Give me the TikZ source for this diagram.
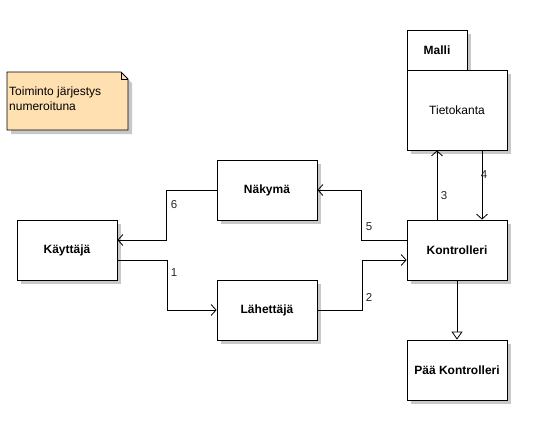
\documentclass[tikz,border=0pt]{standalone}
\usepackage{fontspec}
\setmainfont{Liberation Sans}
\usetikzlibrary{arrows.meta,backgrounds,calc}
\definecolor{notefill}{HTML}{FFE0B0}
\definecolor{shadowgray}{HTML}{C8C8C8}
\tikzset{
  x=1pt,y=-1pt,
  box/.style={draw, fill=white, line width=0.8pt, minimum width=100pt, minimum height=60pt, inner sep=0pt,
    font=\fontsize{12}{14}\selectfont\bfseries},
  conn/.style={line width=0.8pt, -{Straight Barb[length=5pt,width=11pt,line width=0.8pt]}},
  gen/.style={line width=0.8pt, -{Triangle[open,length=8pt,width=11pt,line width=0.8pt,fill=white]}},
  num/.style={font=\fontsize{11.5}{13}\selectfont, inner sep=0pt, text=black!85},
  shad/.style={fill=shadowgray},
}
\newcommand{\shadowof}[1]{\fill[shad] ([shift={(4,4)}]#1.north west) rectangle ([shift={(4,4)}]#1.south east);}
\begin{document}
\begin{tikzpicture}
\useasboundingbox (0,0) rectangle (553,434);
% note
\fill[shadowgray] (11,76) -- (125,76) -- (132,83) -- (132,134) -- (11,134) -- cycle;
\draw[fill=notefill, line width=0.8pt] (7,72) -- (121,72) -- (128,79) -- (128,130) -- (7,130) -- cycle;
\draw[line width=0.8pt] (121,72) -- (121,79) -- (128,79);
\node[anchor=north west, align=left, inner sep=0pt, font=\fontsize{12}{15}\selectfont] (note) at (9,87) {Toiminto järjestys\\numeroituna};
% Malli package
\node[box, minimum width=60pt, minimum height=40pt] (malli) at (437,50) {Malli};
\node[box, minimum height=80pt, font=\fontsize{12}{14}\selectfont] (tk) at (457,110) {Tietokanta};
% boxes
\node[box] (nak) at (267,190) {Näkymä};
\node[box] (kay) at (67,250) {Käyttäjä};
\node[box] (lah) at (267,310) {Lähettäjä};
\node[box] (kon) at (457,250) {Kontrolleri};
\node[box] (paa) at (457,370) {Pää Kontrolleri};
\begin{scope}[on background layer]
\shadowof{malli}
\shadowof{tk}
\shadowof{nak}
\shadowof{kay}
\shadowof{lah}
\shadowof{kon}
\shadowof{paa}
\end{scope}
% connectors
\draw[conn] ([yshift=-10pt]kay.east) -- ++(50,0) |- (lah.west);
\draw[conn] (lah.east) -- ++(45,0) |- ([yshift=-10pt]kon.west);
\draw[conn] ([yshift=10pt]kon.west) -- ++(-45,0) |- (nak.east);
\draw[conn] (nak.west) -- ++(-50,0) |- ([yshift=10pt]kay.east);
\draw[conn] ([xshift=-20pt]kon.north) -- ([xshift=-20pt]tk.south);
\draw[conn] ([xshift=25pt]tk.south) -- ([xshift=25pt]kon.north);
\draw[gen] (kon.south) -- (paa.north);
% labels
\node[num] (n1) at (174,273) {1};
\node[num] (n2) at (369,297) {2};
\node[num] (n3) at (444,196) {3};
\node[num] (n4) at (484,175) {4};
\node[num] (n5) at (369,227) {5};
\node[num] (n6) at (174,205) {6};
\end{tikzpicture}
\end{document}
